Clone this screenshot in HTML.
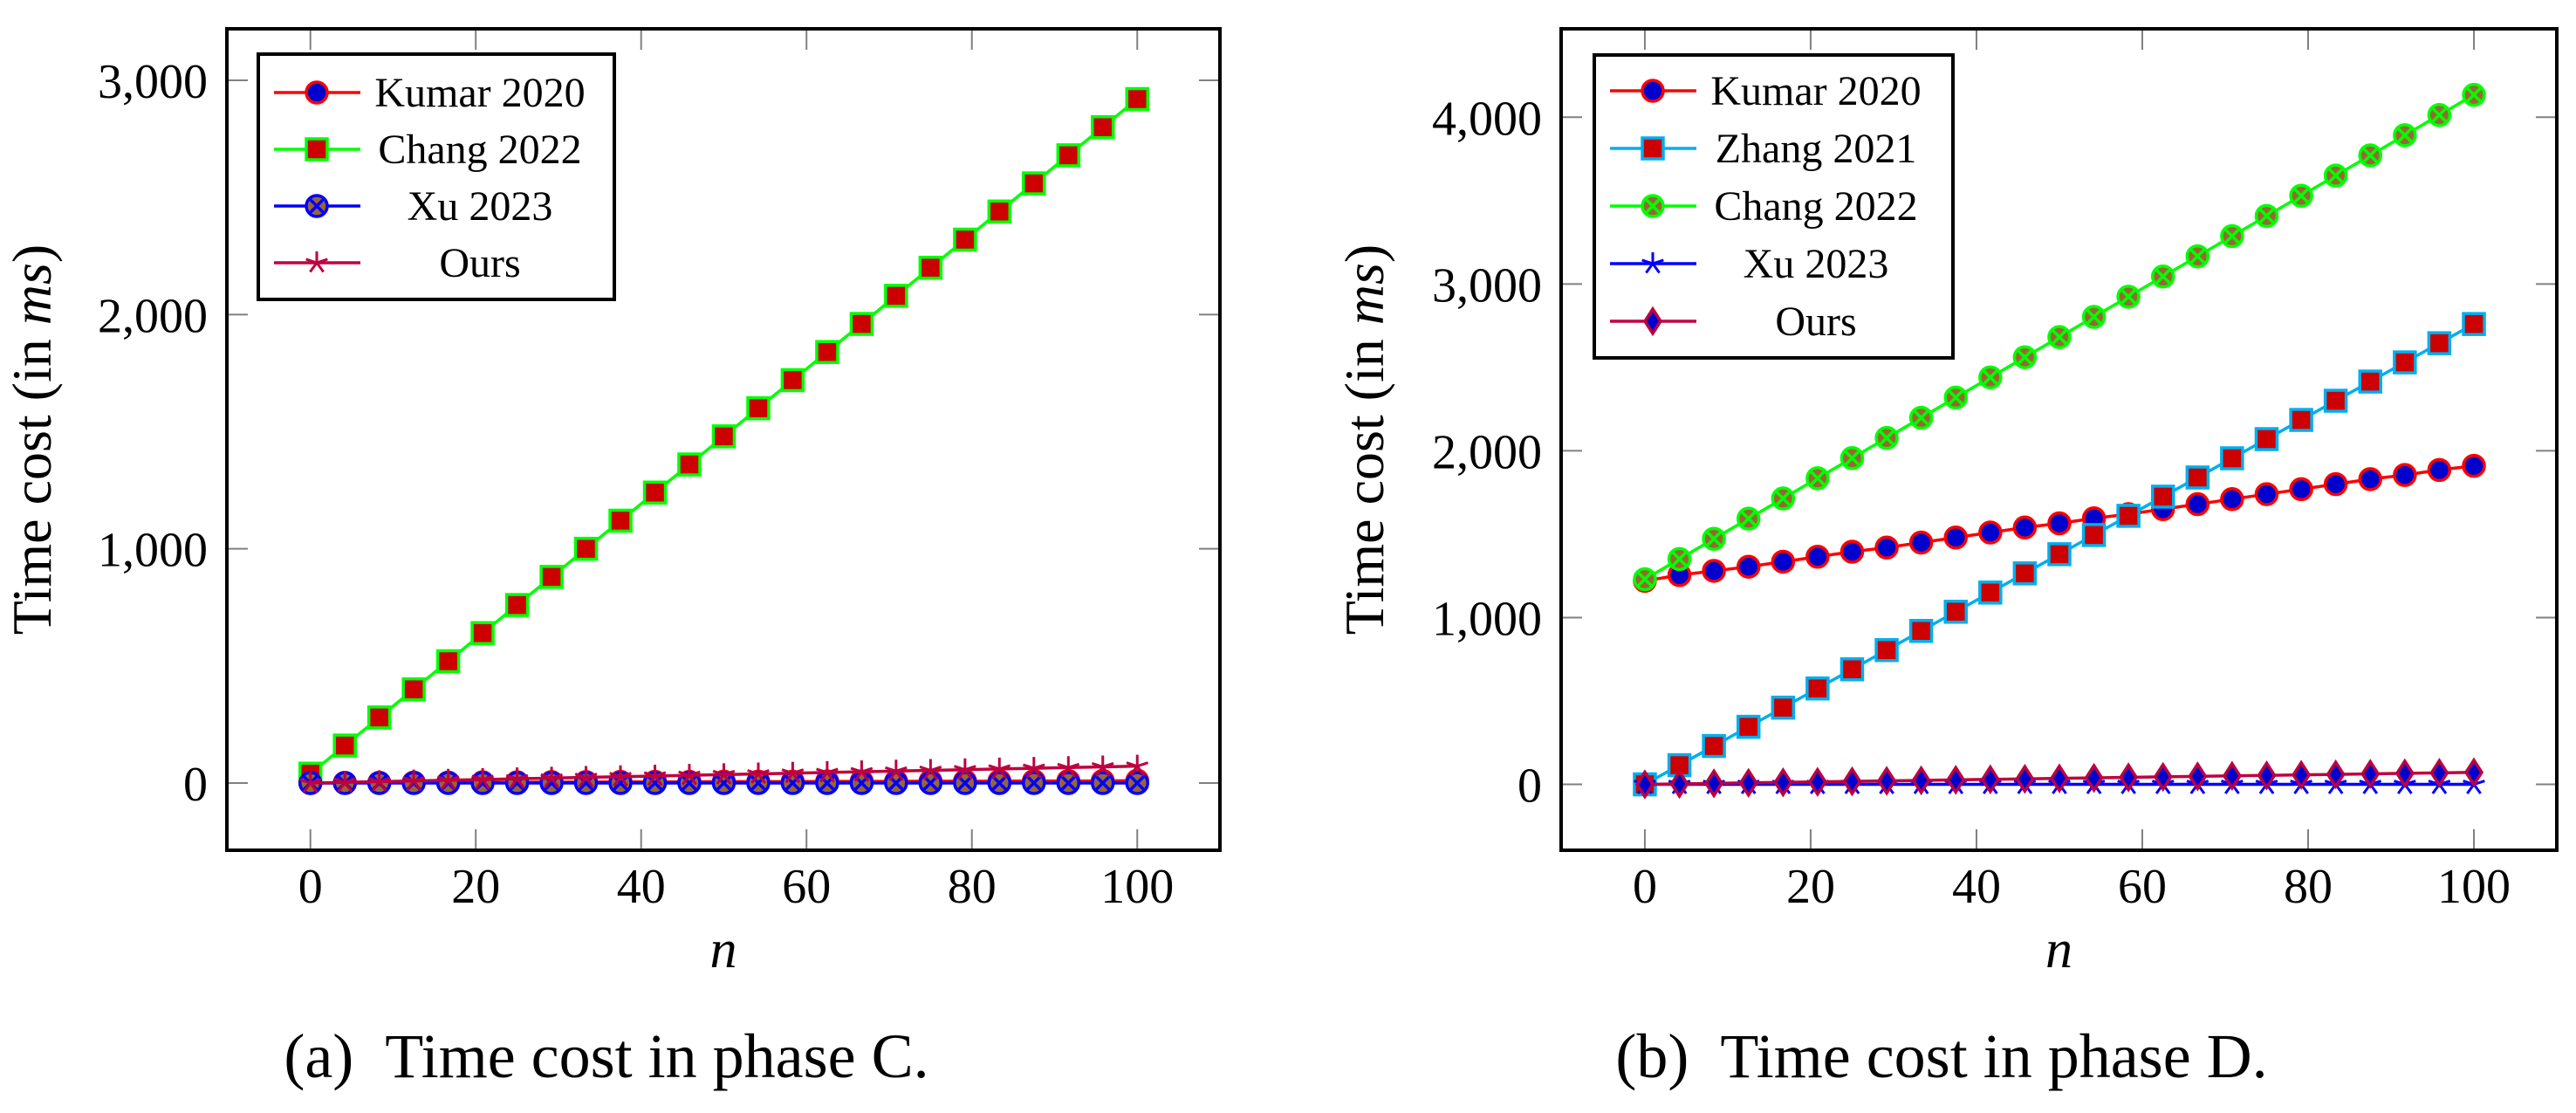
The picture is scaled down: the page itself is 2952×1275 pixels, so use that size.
<!DOCTYPE html>
<html><head><meta charset="utf-8">
<style>
html,body{margin:0;padding:0;background:#fff;}
svg{display:block;font-family:"Liberation Serif",serif;}
svg text{font-family:"Liberation Serif",serif;}
</style></head>
<body>
<svg id="fig" width="2952" height="1275" viewBox="0 0 2952 1275" xmlns="http://www.w3.org/2000/svg" font-family="Liberation Serif, serif"></svg>
<script>
// ---------- data ----------
const nValues = [0,4.17,8.33,12.5,16.67,20.83,25,29.17,33.33,37.5,41.67,45.83,50,54.17,58.33,62.5,66.67,70.83,75,79.17,83.33,87.5,91.67,95.83,100];
const xTicks = [0,20,40,60,80,100];
const yTicksC = [0,1000,2000,3000];
const yTickLabelsC = ["0","1,000","2,000","3,000"];
const yTicksD = [0,1000,2000,3000,4000];
const yTickLabelsD = ["0","1,000","2,000","3,000","4,000"];
// phase C
const kumarC = [0,1,1,2,2,3,3,4,4,5,5,5,6,6,6,7,7,7,8,8,8,9,9,9,10];
const changC = [40,160,280,400,520,640,760,880,1000,1120,1240,1360,1480,1600,1720,1840,1960,2080,2200,2320,2440,2560,2680,2800,2920];
const xuC = [0,0,0,0,0,0,0,0,0,0,0,0,0,0,0,0,0,0,0,0,0,0,0,0,0];
const oursC = [0,3,6,9,12,15,18,21,24,27,30,33,36,39,42,45,48,51,54,57,60,63,66,69,72];
// phase D
const kumarD = [1220,1255,1280,1305,1335,1365,1395,1420,1450,1480,1510,1540,1565,1595,1620,1650,1680,1710,1740,1770,1800,1830,1855,1885,1910];
const zhangD = [0,115,230,345,460,575,690,805,920,1035,1150,1265,1380,1495,1610,1725,1840,1955,2070,2185,2300,2415,2530,2645,2760];
const changD = [1230,1351,1472,1593,1714,1835,1956,2077,2198,2319,2440,2561,2682,2803,2924,3045,3166,3287,3408,3529,3650,3771,3892,4013,4134];
const xuD = [0,0,0,0,0,0,0,0,0,0,0,0,0,0,0,0,0,0,0,0,0,0,0,0,0];
const oursD = [0,3,6,9,12,15,18,21,24,27,30,33,36,39,42,45,48,51,54,57,60,63,66,69,72];

const NS="http://www.w3.org/2000/svg";
const svg=document.getElementById('fig');
function mk(tag,attrs,parent){const e=document.createElementNS(NS,tag);for(const k in attrs)e.setAttribute(k,attrs[k]);if(tag==='text')e.setAttribute('font-family','Liberation Serif, serif');(parent||svg).appendChild(e);return e;}

const C={red:"#ff0000",blue:"#0000ff",green:"#00ff00",cyan:"#00aeef",purple:"#bf0040",brown:"#996633",dred:"#cc0000",dblue:"#0000cc"};

function marker(g,type,cx,cy,st){
  let m;
  if(type==="circle"){m=mk('circle',{cx:cx,cy:cy,r:12,fill:st.fill,stroke:st.stroke,'stroke-width':3.5},g);}
  else if(type==="square"){m=mk('rect',{x:cx-12,y:cy-12,width:24,height:24,fill:st.fill,stroke:st.stroke,'stroke-width':3.5},g);}
  else if(type==="otimes"){m=mk('g',{},g);mk('circle',{cx:cx,cy:cy,r:12,fill:st.fill,stroke:st.stroke,'stroke-width':3.5},m);
    mk('path',{d:`M${cx-8} ${cy-8}L${cx+8} ${cy+8}M${cx+8} ${cy-8}L${cx-8} ${cy+8}`,stroke:st.stroke,'stroke-width':3.5},m);}
  else if(type==="star"){m=mk('g',{},g);let d="";for(let k=0;k<5;k++){const a=-Math.PI/2+k*2*Math.PI/5;d+=`M${cx} ${cy}L${cx+13*Math.cos(a)} ${cy+13*Math.sin(a)}`;}
    mk('path',{d:d,stroke:st.stroke,'stroke-width':3,fill:'none'},m);}
  else if(type==="diamond"){m=mk('path',{d:`M${cx} ${cy-14}L${cx+9} ${cy}L${cx} ${cy+14}L${cx-9} ${cy}Z`,fill:st.fill,stroke:st.stroke,'stroke-width':3.5},g);}
  return m;
}

function panel(p){
  const sx=v=>p.x0+(v-p.xmin)/(p.xmax-p.xmin)*(p.x1-p.x0);
  const sy=v=>p.y1-(v-p.ymin)/(p.ymax-p.ymin)*(p.y1-p.y0);
  const g=mk('g',{});
  
  
  xTicks.forEach(t=>{
    const x=sx(t);
    mk('line',{x1:x,y1:p.y0,x2:x,y2:p.y0+24,stroke:'#808080','stroke-width':2},g);
    mk('line',{x1:x,y1:p.y1,x2:x,y2:p.y1-24,stroke:'#808080','stroke-width':2},g);
    const tx=mk('text',{x:x,y:p.y1+60,'text-anchor':'middle','font-size':56,fill:'#000'},g);
    tx.textContent=t;
    
    
  });
  p.yTicks.forEach((t,i)=>{
    const y=sy(t);
    mk('line',{x1:p.x0,y1:y,x2:p.x0+24,y2:y,stroke:'#808080','stroke-width':2},g);
    mk('line',{x1:p.x1,y1:y,x2:p.x1-24,y2:y,stroke:'#808080','stroke-width':2},g);
    const tx=mk('text',{x:p.x0-22,y:y+20,'text-anchor':'end','font-size':56,fill:'#000'},g);
    tx.textContent=p.yLabels[i];
    
    
  });
  p.series.forEach(s=>{
    const sg=mk('g',{},g);
    
    
    const pts=nValues.map((n,i)=>sx(n)+','+sy(s.data[i])).join(' ');
    mk('polyline',{points:pts,fill:'none',stroke:s.line,'stroke-width':3.5},sg);
    nValues.forEach((n,i)=>marker(sg,s.mark,sx(n),sy(s.data[i]),s));
  });
  const fr=mk('rect',{x:p.x0,y:p.y0,width:p.x1-p.x0,height:p.y1-p.y0,fill:'none',stroke:'#000','stroke-width':4},g);
  
  
  const L=p.legend;
  const lg=mk('g',{},g);
  
  
  mk('rect',{x:L.x,y:L.y,width:L.w,height:L.h,fill:'#fff',stroke:'#000','stroke-width':4},lg);
  p.series.forEach((s,i)=>{
    const cy=L.first+i*L.step;
    const eg=mk('g',{},lg);
    
    
    mk('line',{x1:L.x+18,y1:cy,x2:L.x+117,y2:cy,stroke:s.line,'stroke-width':3.5},eg);
    marker(eg,s.mark,L.x+67,cy,s);
    const t=mk('text',{x:L.tx,y:cy+16,'text-anchor':'middle','font-size':48,fill:'#000'},eg);
    t.textContent=s.label;
  });
  const yt=mk('text',{x:p.ytx,y:(p.y0+p.y1)/2,'text-anchor':'middle','font-size':64,fill:'#000',transform:`rotate(-90 ${p.ytx} ${(p.y0+p.y1)/2})`},g);
  yt.innerHTML='Time cost (in <tspan font-style="italic">ms</tspan>)';
  
  
  const xt=mk('text',{x:(p.x0+p.x1)/2,y:1108,'text-anchor':'middle','font-size':62,'font-style':'italic',fill:'#000'},g);
  xt.textContent='n';
  
  
  const cap=mk('text',{x:p.capx,y:1234,'text-anchor':'middle','font-size':72,fill:'#000'},g);
  cap.innerHTML=p.caption;
  
  
}

panel({name:'chart-phase-c',x0:260,x1:1398,y0:33,y1:974,xmin:-10.1,xmax:110,ymin:-287,ymax:3220,
  yTicks:yTicksC,yLabels:yTickLabelsC,ytx:58,capx:695,caption:'(a)&#160;&#160;Time cost in phase C.',
  legend:{x:296,y:62,w:408,h:281,first:106,step:65,tx:550},
  series:[
    {id:'series-kumar-2020',label:'Kumar 2020',data:kumarC,mark:'circle',line:C.red,stroke:C.red,fill:C.dblue},
    {id:'series-chang-2022',label:'Chang 2022',data:changC,mark:'square',line:C.green,stroke:C.green,fill:C.dred},
    {id:'series-xu-2023',label:'Xu 2023',data:xuC,mark:'otimes',line:C.blue,stroke:C.blue,fill:C.brown},
    {id:'series-ours',label:'Ours',data:oursC,mark:'star',line:C.purple,stroke:C.purple,fill:C.purple}
  ]});
panel({name:'chart-phase-d',x0:1789,x1:2930,y0:33,y1:974,xmin:-10.1,xmax:110,ymin:-395,ymax:4530,
  yTicks:yTicksD,yLabels:yTickLabelsD,ytx:1585,capx:2225,caption:'(b)&#160;&#160;Time cost in phase D.',
  legend:{x:1827,y:63,w:411,h:347,first:104,step:66,tx:2081},
  series:[
    {id:'series-kumar-2020',label:'Kumar 2020',data:kumarD,mark:'circle',line:C.red,stroke:C.red,fill:C.dblue},
    {id:'series-zhang-2021',label:'Zhang 2021',data:zhangD,mark:'square',line:C.cyan,stroke:C.cyan,fill:C.dred},
    {id:'series-chang-2022',label:'Chang 2022',data:changD,mark:'otimes',line:C.green,stroke:C.green,fill:C.brown},
    {id:'series-xu-2023',label:'Xu 2023',data:xuD,mark:'star',line:C.blue,stroke:C.blue,fill:C.blue},
    {id:'series-ours',label:'Ours',data:oursD,mark:'diamond',line:C.purple,stroke:C.purple,fill:C.dblue}
  ]});
</script>
</body></html>
